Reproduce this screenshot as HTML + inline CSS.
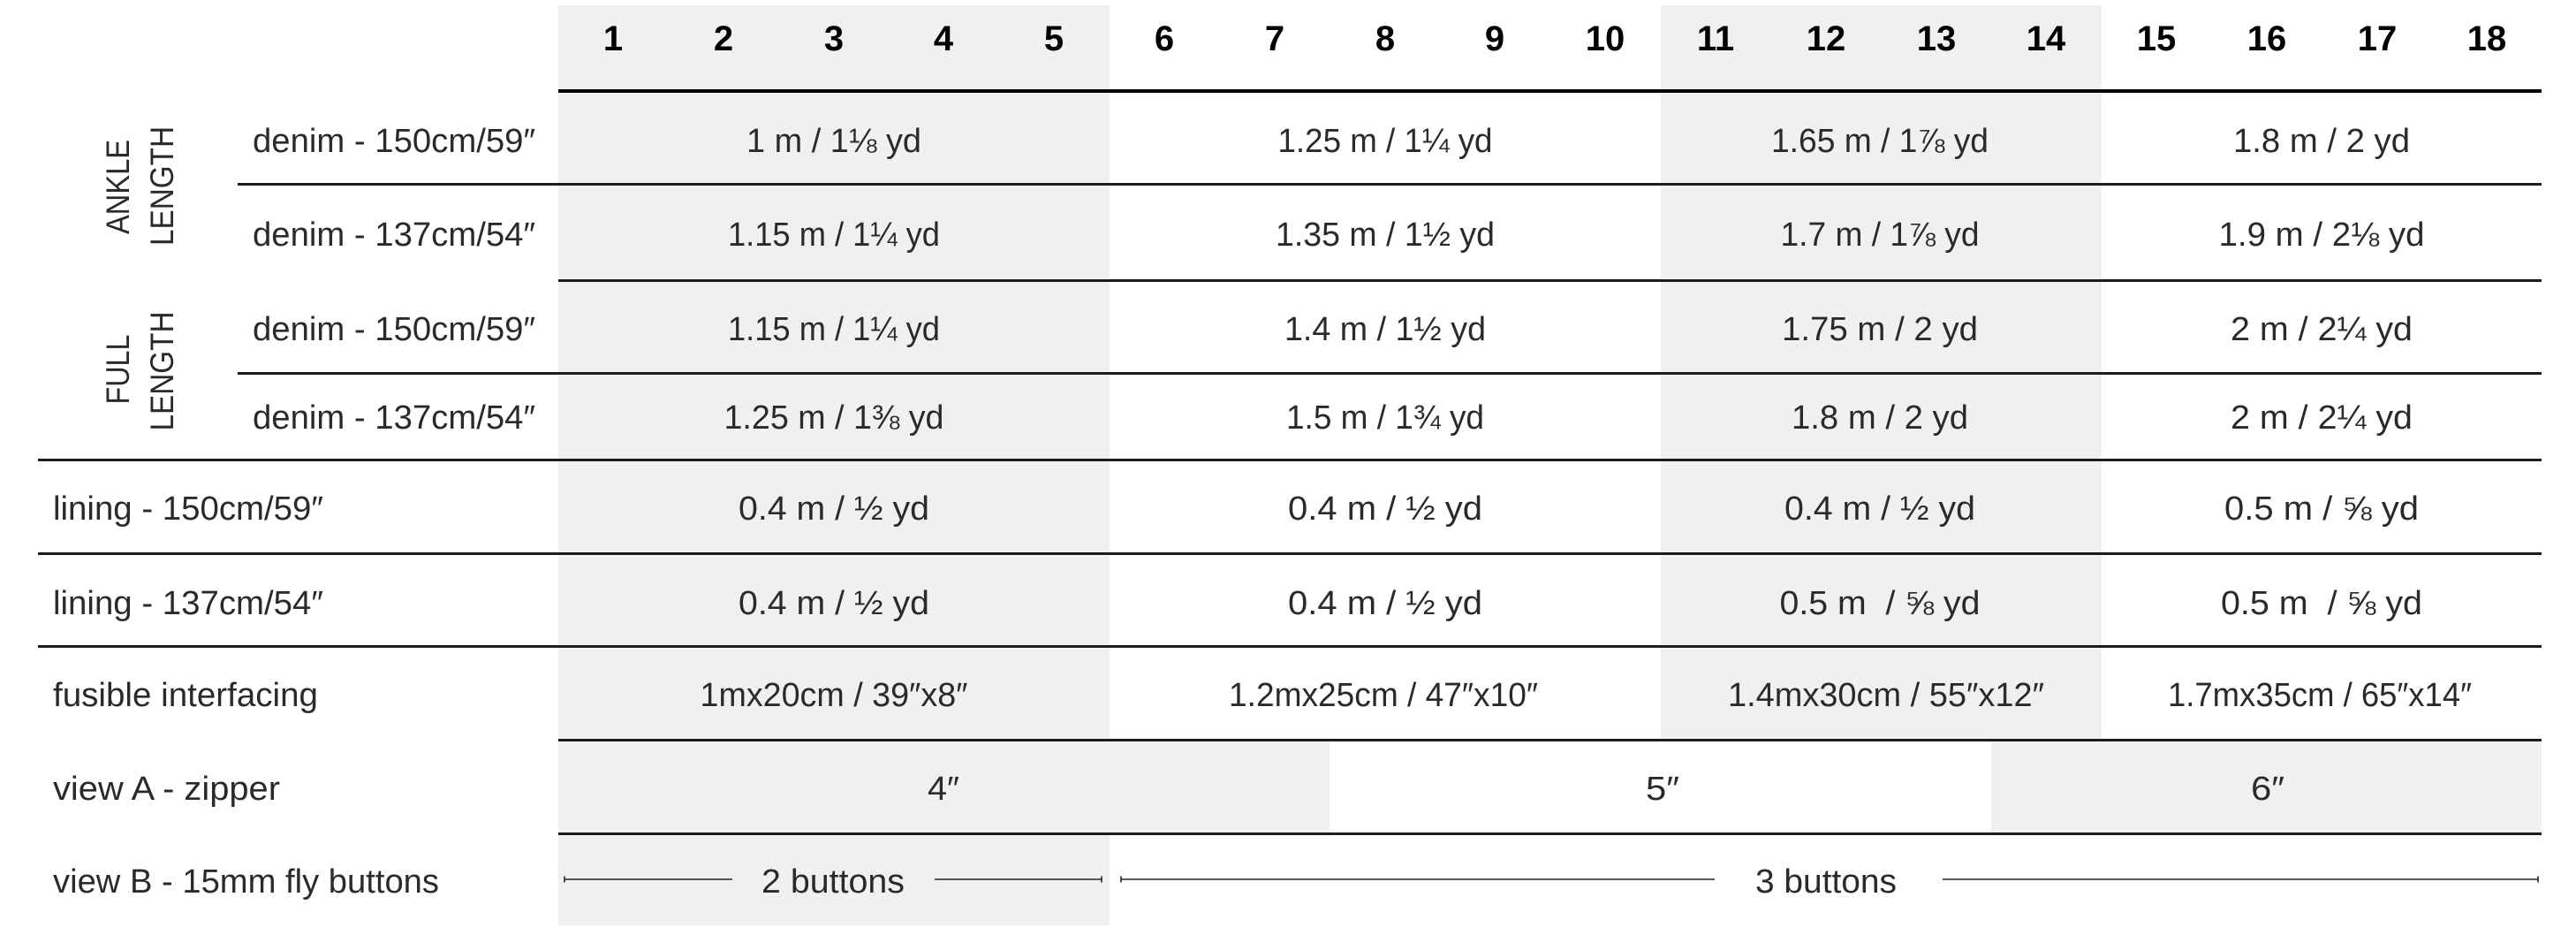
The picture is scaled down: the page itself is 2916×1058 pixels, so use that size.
<!DOCTYPE html>
<html>
<head>
<meta charset="utf-8">
<style>
  html, body { margin:0; padding:0; background:#ffffff; }
  body { width:2916px; height:1058px; overflow:hidden; }
  svg { display:block; }
  .t { font-family:"Liberation Sans", Arial, sans-serif; font-size:38px; fill:#2a2a2a; }
  .n { font-family:"Liberation Sans", Arial, sans-serif; font-size:40px; font-weight:bold; fill:#000; }
  .v { font-family:"Liberation Sans", Arial, sans-serif; font-size:37px; fill:#2a2a2a; }
</style>
</head>
<body>
<svg width="2916" height="1058" viewBox="0 0 2916 1058" xmlns="http://www.w3.org/2000/svg">
  <!-- shading -->
  <rect x="632" y="6" width="624" height="1041" fill="#eff0ef"/>
  <rect x="1880" y="6" width="499" height="831" fill="#eff0ef"/>
  <rect x="632" y="837" width="873" height="106" fill="#eff0ef"/>
  <rect x="2254" y="837" width="623" height="106" fill="#eff0ef"/>

  <!-- header numbers -->
  <g class="n" text-anchor="middle">
    <text x="694" y="57">1</text>
    <text x="819" y="57">2</text>
    <text x="944" y="57">3</text>
    <text x="1068" y="57">4</text>
    <text x="1193" y="57">5</text>
    <text x="1318" y="57">6</text>
    <text x="1443" y="57">7</text>
    <text x="1568" y="57">8</text>
    <text x="1692" y="57">9</text>
    <text x="1817" y="57">10</text>
    <text x="1942" y="57">11</text>
    <text x="2067" y="57">12</text>
    <text x="2192" y="57">13</text>
    <text x="2316" y="57">14</text>
    <text x="2441" y="57">15</text>
    <text x="2566" y="57">16</text>
    <text x="2691" y="57">17</text>
    <text x="2815" y="57">18</text>
  </g>

  <!-- lines -->
  <rect x="632" y="101" width="2245" height="4" fill="#000"/>
  <rect x="269" y="207" width="2608" height="3" fill="#1c1c1c"/>
  <rect x="632" y="316" width="2245" height="3" fill="#1c1c1c"/>
  <rect x="269" y="421" width="2608" height="3" fill="#1c1c1c"/>
  <rect x="43" y="519" width="2834" height="3" fill="#1c1c1c"/>
  <rect x="43" y="625" width="2834" height="3" fill="#1c1c1c"/>
  <rect x="43" y="730" width="2834" height="3" fill="#1c1c1c"/>
  <rect x="632" y="836" width="2245" height="3" fill="#1c1c1c"/>
  <rect x="632" y="942" width="2245" height="3" fill="#1c1c1c"/>

  <!-- vertical labels -->
  <text class="v" transform="translate(146,211.5) rotate(-90)" x="-53.5" y="0" textLength="107" lengthAdjust="spacingAndGlyphs">ANKLE</text>
  <text class="v" transform="translate(196,210.5) rotate(-90)" x="-67.5" y="0" textLength="135" lengthAdjust="spacingAndGlyphs">LENGTH</text>
  <text class="v" transform="translate(146,418) rotate(-90)" x="-39.5" y="0" textLength="79" lengthAdjust="spacingAndGlyphs">FULL</text>
  <text class="v" transform="translate(196,420) rotate(-90)" x="-67.5" y="0" textLength="135" lengthAdjust="spacingAndGlyphs">LENGTH</text>

  <g class="t">
    <!-- row 1 -->
    <text x="286" y="172" textLength="320" lengthAdjust="spacingAndGlyphs">denim - 150cm/59″</text>
    <text x="845" y="172" textLength="198" lengthAdjust="spacingAndGlyphs">1 m / 1⅛ yd</text>
    <text x="1446.5" y="172" textLength="243" lengthAdjust="spacingAndGlyphs">1.25 m / 1¼ yd</text>
    <text x="2005" y="172" textLength="246" lengthAdjust="spacingAndGlyphs">1.65 m / 1⅞ yd</text>
    <text x="2528" y="172" textLength="200" lengthAdjust="spacingAndGlyphs">1.8 m / 2 yd</text>

    <!-- row 2 -->
    <text x="286" y="278" textLength="320" lengthAdjust="spacingAndGlyphs">denim - 137cm/54″</text>
    <text x="824" y="278" textLength="240" lengthAdjust="spacingAndGlyphs">1.15 m / 1¼ yd</text>
    <text x="1444" y="278" textLength="248" lengthAdjust="spacingAndGlyphs">1.35 m / 1½ yd</text>
    <text x="2015.5" y="278" textLength="225" lengthAdjust="spacingAndGlyphs">1.7 m / 1⅞ yd</text>
    <text x="2511.5" y="278" textLength="233" lengthAdjust="spacingAndGlyphs">1.9 m / 2⅛ yd</text>

    <!-- row 3 -->
    <text x="286" y="385" textLength="320" lengthAdjust="spacingAndGlyphs">denim - 150cm/59″</text>
    <text x="824" y="385" textLength="240" lengthAdjust="spacingAndGlyphs">1.15 m / 1¼ yd</text>
    <text x="1454" y="385" textLength="228" lengthAdjust="spacingAndGlyphs">1.4 m / 1½ yd</text>
    <text x="2017" y="385" textLength="222" lengthAdjust="spacingAndGlyphs">1.75 m / 2 yd</text>
    <text x="2525" y="385" textLength="206" lengthAdjust="spacingAndGlyphs">2 m / 2¼ yd</text>

    <!-- row 4 -->
    <text x="286" y="485" textLength="320" lengthAdjust="spacingAndGlyphs">denim - 137cm/54″</text>
    <text x="819.5" y="485" textLength="249" lengthAdjust="spacingAndGlyphs">1.25 m / 1⅜ yd</text>
    <text x="1456" y="485" textLength="224" lengthAdjust="spacingAndGlyphs">1.5 m / 1¾ yd</text>
    <text x="2028" y="485" textLength="200" lengthAdjust="spacingAndGlyphs">1.8 m / 2 yd</text>
    <text x="2525" y="485" textLength="206" lengthAdjust="spacingAndGlyphs">2 m / 2¼ yd</text>

    <!-- lining 150 -->
    <text x="60" y="588" textLength="306" lengthAdjust="spacingAndGlyphs">lining - 150cm/59″</text>
    <text x="836" y="588" textLength="216" lengthAdjust="spacingAndGlyphs">0.4 m / ½ yd</text>
    <text x="1458" y="588" textLength="220" lengthAdjust="spacingAndGlyphs">0.4 m / ½ yd</text>
    <text x="2020" y="588" textLength="216" lengthAdjust="spacingAndGlyphs">0.4 m / ½ yd</text>
    <text x="2518" y="588" textLength="220" lengthAdjust="spacingAndGlyphs">0.5 m / ⅝ yd</text>

    <!-- lining 137 -->
    <text x="60" y="695" textLength="306" lengthAdjust="spacingAndGlyphs">lining - 137cm/54″</text>
    <text x="836" y="695" textLength="216" lengthAdjust="spacingAndGlyphs">0.4 m / ½ yd</text>
    <text x="1458" y="695" textLength="220" lengthAdjust="spacingAndGlyphs">0.4 m / ½ yd</text>
    <text x="2014.5" y="695" textLength="227" lengthAdjust="spacingAndGlyphs">0.5 m&#160; / ⅝ yd</text>
    <text x="2514" y="695" textLength="228" lengthAdjust="spacingAndGlyphs">0.5 m&#160; / ⅝ yd</text>

    <!-- fusible -->
    <text x="60" y="799" textLength="300" lengthAdjust="spacingAndGlyphs">fusible interfacing</text>
    <text x="792.5" y="799" textLength="303" lengthAdjust="spacingAndGlyphs">1mx20cm / 39″x8″</text>
    <text x="1391" y="799" textLength="350" lengthAdjust="spacingAndGlyphs">1.2mx25cm / 47″x10″</text>
    <text x="1956" y="799" textLength="358" lengthAdjust="spacingAndGlyphs">1.4mx30cm / 55″x12″</text>
    <text x="2454" y="799" textLength="344" lengthAdjust="spacingAndGlyphs">1.7mx35cm / 65″x14″</text>

    <!-- zipper -->
    <text x="60" y="905" textLength="257" lengthAdjust="spacingAndGlyphs">view A - zipper</text>
    <text x="1050" y="905" textLength="36" lengthAdjust="spacingAndGlyphs">4″</text>
    <text x="1863" y="905" textLength="38" lengthAdjust="spacingAndGlyphs">5″</text>
    <text x="2548" y="905" textLength="38" lengthAdjust="spacingAndGlyphs">6″</text>

    <!-- buttons -->
    <text x="60" y="1010" textLength="437" lengthAdjust="spacingAndGlyphs">view B - 15mm fly buttons</text>
    <text x="862" y="1010" textLength="162" lengthAdjust="spacingAndGlyphs">2 buttons</text>
    <text x="1987" y="1010" textLength="160" lengthAdjust="spacingAndGlyphs">3 buttons</text>
  </g>

  <!-- button dimension lines -->
  <g stroke="#222" stroke-width="1.6" fill="none">
    <line x1="639" y1="995" x2="829" y2="995"/>
    <line x1="639" y1="991.5" x2="639" y2="998.5"/>
    <line x1="1058" y1="995" x2="1247" y2="995"/>
    <line x1="1247" y1="991.5" x2="1247" y2="998.5"/>
    <line x1="1269" y1="995" x2="1941" y2="995"/>
    <line x1="1269" y1="991.5" x2="1269" y2="998.5"/>
    <line x1="2199" y1="995" x2="2873" y2="995"/>
    <line x1="2873" y1="991.5" x2="2873" y2="998.5"/>
  </g>
</svg>
</body>
</html>
